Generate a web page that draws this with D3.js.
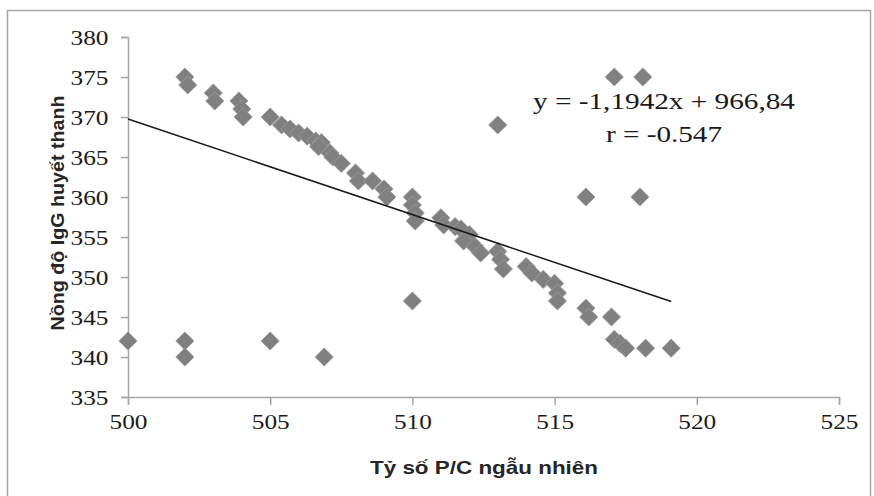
<!DOCTYPE html>
<html>
<head>
<meta charset="utf-8">
<script src="https://cdn.jsdelivr.net/npm/d3@7"></script>
<style>
  body { margin: 0; background: #fff; }
  svg { display: block; }
</style>
</head>
<body>
<div id="chart"></div>
<script>
// data
var pcRatio = [500, 502, 502.1, 502, 502, 503, 503.05, 503.9, 504, 504.05,
  505, 505, 506.9, 505.4, 505.7, 506, 506.3, 506.6, 506.8, 506.7,
  507.1, 507.2, 507.5, 508, 508.1, 508.6, 509, 509.1, 510, 510,
  510.1, 510.1, 511, 511.1, 511.5, 511.7, 512, 511.8, 512.2, 512.4,
  513, 513.1, 513.2, 514, 514.2, 514.6, 515, 515.1, 515.1, 510,
  513, 516.1, 516.2, 517, 517.1, 517.3, 517.5, 518.2, 519.1, 517.1,
  518.1, 516.1, 518];
var igg = [342, 375, 374, 342, 340, 373, 372, 372, 371, 370,
  370, 342, 340, 369, 368.5, 368, 367.6, 367, 366.8, 366.3,
  365.5, 365, 364.2, 363, 362, 362, 361, 360, 360, 359,
  358, 357, 357.4, 356.5, 356.3, 356, 355.3, 354.5, 353.8, 353,
  353.2, 352.2, 351, 351.3, 350.5, 349.7, 349.2, 348, 347, 347,
  369, 346.1, 345, 345, 342.2, 341.7, 341.1, 341.1, 341.1, 375,
  375, 360, 360];
var xTicks = [500, 505, 510, 515, 520, 525];
var yTicks = [335, 340, 345, 350, 355, 360, 365, 370, 375, 380];
var slope = -1.1942, intercept = 966.84;
var trendX = [500, 519.1];
var eqLines = ["y = -1,1942x + 966,84", "r = -0.547"];

var W = 874, H = 496;
var margin = { top: 37, right: 35, bottom: 99, left: 128 },
  width = 839 - margin.left,
  height = 397 - margin.top;

var svg = d3.select("#chart").append("svg")
  .attr("width", W)
  .attr("height", H);

// outer frame
svg.append("rect")
  .attr("x", 7.5).attr("y", 10.5)
  .attr("width", 863).attr("height", 520)
  .attr("fill", "none")
  .attr("stroke", "#a6a6a6")
  .attr("stroke-width", 1.5);

var g = svg.append("g")
  .attr("transform", "translate(" + margin.left + "," + margin.top + ")");

var x = d3.scaleLinear().domain([500, 525]).range([0, width]);
var y = d3.scaleLinear().domain([335, 380]).range([height, 0]);

var serif = "'Liberation Serif', 'Times New Roman', serif";
var sans = "'Liberation Sans', Arial, sans-serif";

var xAxis = g.append("g")
  .attr("transform", "translate(0," + height + ")")
  .call(d3.axisBottom(x).tickValues(xTicks).tickSize(8).tickPadding(8).tickFormat(d3.format("d")));
var yAxis = g.append("g")
  .call(d3.axisLeft(y).tickValues(yTicks).tickSize(7).tickPadding(12).tickFormat(d3.format("d")));

[xAxis, yAxis].forEach(function (a) {
  a.attr("font-family", serif).attr("font-size", 22);
  a.select(".domain").attr("stroke", "#a6a6a6").attr("stroke-width", 1.5);
  a.selectAll(".tick line").attr("stroke", "#a6a6a6").attr("stroke-width", 1.5);
  a.selectAll(".tick text")
    .attr("fill", "#1a1a1a")
    .style("font-family", serif)
    .style("font-size", "22px");
});
// the source picture is a little stretched sideways
xAxis.selectAll(".tick text").attr("transform", "scale(1.15,1)");
yAxis.selectAll(".tick text")
  .attr("dy", "0.35em")
  .attr("x", -17)
  .attr("transform", "scale(1.15,1)");

// markers
var pts = pcRatio.map(function (v, i) { return { x: v, y: igg[i] }; });
var diamond = d3.symbol().type(d3.symbolSquare).size(165);
g.append("g")
  .selectAll("path")
  .data(pts)
  .enter()
  .append("path")
  .attr("d", diamond)
  .attr("transform", function (d) {
    return "translate(" + x(d.x) + "," + y(d.y) + ") rotate(45)";
  })
  .attr("fill", "#808080")
  .attr("stroke", "#9a9a9a")
  .attr("stroke-width", 0.8);

// linear trend line
g.append("line")
  .attr("x1", x(trendX[0]))
  .attr("y1", y(slope * trendX[0] + intercept))
  .attr("x2", x(trendX[1]))
  .attr("y2", y(slope * trendX[1] + intercept))
  .attr("stroke", "#1a1a1a")
  .attr("stroke-width", 1.5);

// equation label
var eqLen = [262, 116];
svg.append("g").selectAll("text")
  .data(eqLines)
  .enter()
  .append("text")
  .attr("x", 664)
  .attr("y", function (d, i) { return 109 + i * 33; })
  .attr("text-anchor", "middle")
  .attr("textLength", function (d, i) { return eqLen[i]; })
  .attr("lengthAdjust", "spacingAndGlyphs")
  .style("font-family", serif)
  .style("font-size", "23px")
  .attr("fill", "#1a1a1a")
  .text(function (d) { return d; });

// axis titles
svg.append("text")
  .attr("x", 484)
  .attr("y", 474)
  .attr("text-anchor", "middle")
  .attr("textLength", 228)
  .attr("lengthAdjust", "spacingAndGlyphs")
  .style("font-family", sans)
  .style("font-weight", "bold")
  .style("font-size", "18.5px")
  .attr("fill", "#262626")
  .text("Tỷ số P/C ngẫu nhiên");

svg.append("text")
  .attr("transform", "translate(64,213) rotate(-90)")
  .attr("text-anchor", "middle")
  .attr("textLength", 235)
  .attr("lengthAdjust", "spacingAndGlyphs")
  .style("font-family", sans)
  .style("font-weight", "bold")
  .style("font-size", "18.5px")
  .attr("fill", "#262626")
  .text("Nồng độ IgG huyết thanh");
</script>
</body>
</html>
